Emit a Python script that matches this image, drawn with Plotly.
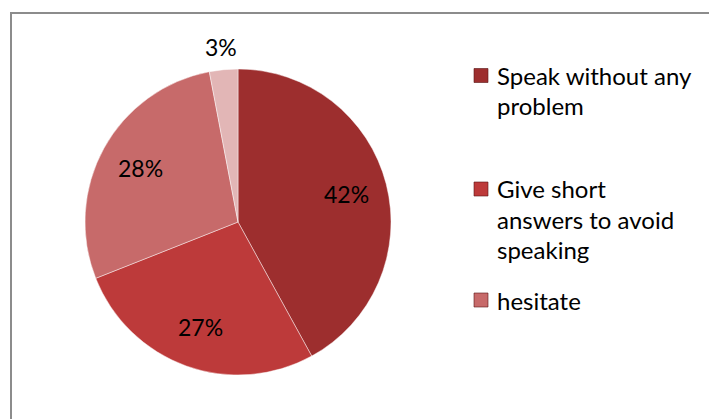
import math
import plotly.graph_objects as go

# Survey answers, share of respondents (%)
categories = [
    "Speak without any problem",
    "Give short answers to avoid speaking",
    "hesitate",
    "other",
]
shares = [42, 27, 28, 3]
slice_colors = ["#9d2e2e", "#bd3a3a", "#c76a6a", "#e2b6b6"]
label_outside = [False, False, False, True]

# Wrapped legend text (three entries shown)
legend_lines = [
    ["Speak without any", "problem"],
    ["Give short", "answers to avoid", "speaking"],
    ["hesitate"],
]

W, H = 709, 419
FONT = "Lato, 'Open Sans', Arial, sans-serif"

# Pie placement in pixels
cx, cy, R = 238, 222, 153

fig = go.Figure(
    go.Pie(
        labels=categories,
        values=shares,
        sort=False,
        direction="clockwise",
        rotation=0,
        marker=dict(colors=slice_colors,
                    line=dict(color="rgba(255,255,255,0.45)", width=1)),
        textinfo="none",
        showlegend=False,
        hoverinfo="label+percent",
        domain=dict(
            x=[(cx - R) / W, (cx + R) / W],
            y=[(H - cy - R) / H, (H - cy + R) / H],
        ),
    )
)

shapes = [
    # chart frame (top and left edges visible)
    dict(type="rect", xref="paper", yref="paper",
         x0=11 / W, x1=1.05, y0=-0.05, y1=1 - 13 / H,
         line=dict(color="#8c8c8c", width=2), fillcolor="rgba(0,0,0,0)",
         layer="below"),
]
annotations = []

# Percentage labels placed on each slice's bisector
total = sum(shares)
start = 0.0
for v, outside in zip(shares, label_outside):
    frac = v / total
    mid = (start + frac / 2) * 2 * math.pi  # clockwise from 12 o'clock
    start += frac
    d = R + 23 if outside else R * 0.73
    px = cx + d * math.sin(mid)
    py = cy - d * math.cos(mid)
    annotations.append(dict(
        xref="paper", yref="paper", x=px / W, y=1 - py / H,
        xanchor="center", yanchor="middle", showarrow=False,
        text=f"{v}%",
        font=dict(family=FONT, size=23, color="#000000"),
    ))

# Custom legend: marker square + wrapped text
marker_y = [75.5, 189, 300]
line_h = 30
for i, lines in enumerate(legend_lines):
    my = marker_y[i]
    shapes.append(dict(
        type="rect", xref="paper", yref="paper",
        x0=474 / W, x1=488 / W,
        y0=1 - (my + 7) / H, y1=1 - (my - 7) / H,
        fillcolor=slice_colors[i],
        line=dict(color="rgba(90,20,20,0.6)", width=1),
    ))
    for j, txt in enumerate(lines):
        ly = my + j * line_h
        annotations.append(dict(
            xref="paper", yref="paper",
            x=495 / W, y=1 - ly / H,
            xanchor="left", yanchor="middle",
            text=txt, showarrow=False, align="left",
            font=dict(family=FONT, size=24, color="#000000"),
        ))

fig.update_layout(
    width=W, height=H,
    margin=dict(l=0, r=0, t=0, b=0),
    paper_bgcolor="#ffffff",
    plot_bgcolor="#ffffff",
    shapes=shapes,
    annotations=annotations,
)

fig.write_html("out.html")
